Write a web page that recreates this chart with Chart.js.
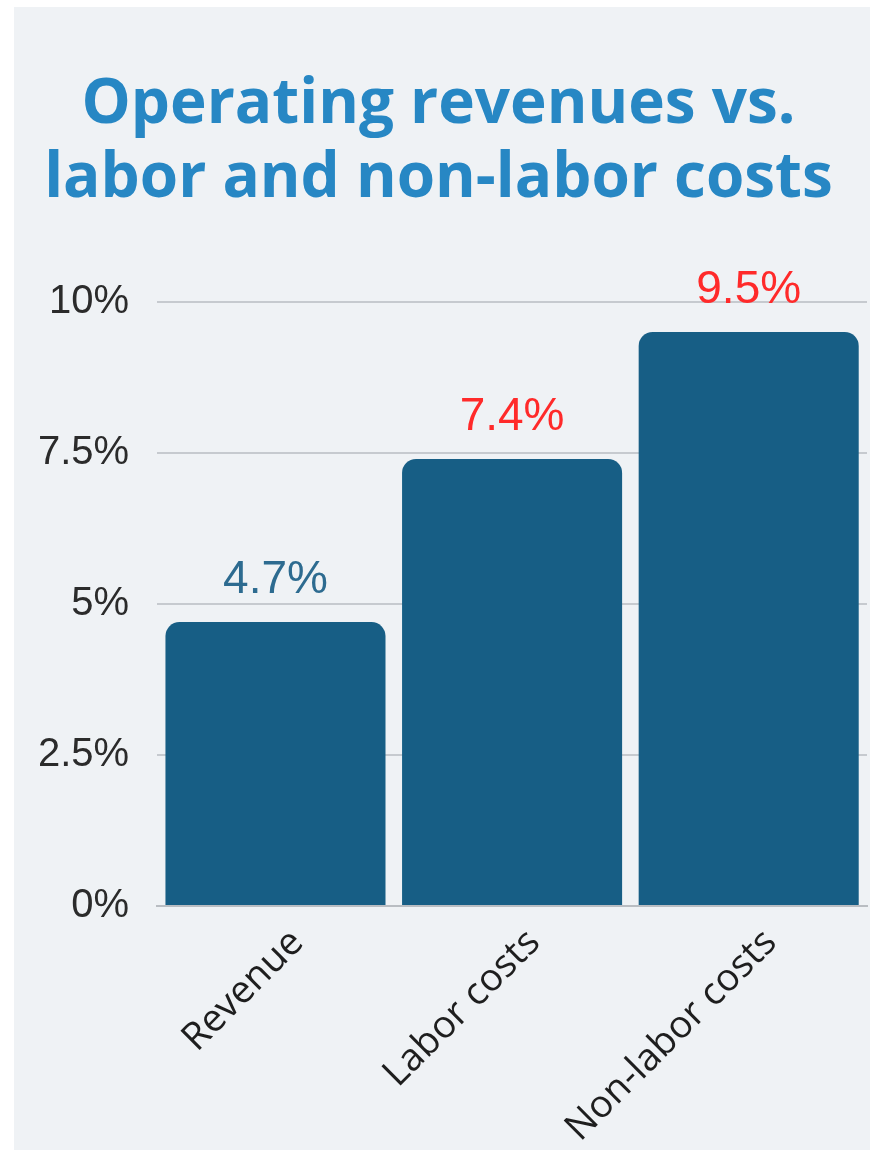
<!DOCTYPE html>
<html>
<head>
<meta charset="utf-8">
<script src="https://cdn.jsdelivr.net/npm/chart.js@4"></script>
<style>
  html, body { margin: 0; padding: 0; background: #ffffff; }
  #wrap { width: 878px; height: 1157px; }
</style>
</head>
<body>
<div id="wrap"><canvas id="costChart" width="878" height="1157"></canvas></div>
<script>
const categories = ['Revenue', 'Labor costs', 'Non-labor costs'];
const growthPct = [4.7, 7.4, 9.5];
const valueLabelColors = ['#2d6b90', '#ff2a2a', '#ff2a2a'];
const yTickValues = [0, 2.5, 5, 7.5, 10];
const titleLines = ['Operating revenues vs.', 'labor and non-labor costs'];

// light grey card behind everything
const panelBackground = {
    id: 'panelBackground',
    beforeDraw(chart) {
        const ctx = chart.ctx;
        ctx.save();
        ctx.fillStyle = '#ffffff';
        ctx.fillRect(0, 0, chart.width, chart.height);
        ctx.fillStyle = '#eff2f5';
        ctx.fillRect(14, 7, 856, 1143);
        ctx.restore();
    }
};

// value labels above each bar
const valueLabels = {
    id: 'valueLabels',
    afterDatasetsDraw(chart) {
        const ctx = chart.ctx;
        const meta = chart.getDatasetMeta(0);
        ctx.save();
        ctx.font = '46px "Liberation Sans", Arial, sans-serif';
        ctx.textAlign = 'center';
        ctx.textBaseline = 'bottom';
        meta.data.forEach((bar, i) => {
            ctx.fillStyle = valueLabelColors[i];
            ctx.fillText(growthPct[i].toFixed(1) + '%', bar.x, bar.y - 19);
        });
        ctx.restore();
    }
};

let chartCanvas = document.getElementById('costChart');
let costChart = new Chart(chartCanvas, {
    type: 'bar',
    data: {
        labels: categories,
        datasets: [{
            data: growthPct,
            backgroundColor: '#175e85',
            borderWidth: 0,
            borderRadius: { topLeft: 14, topRight: 14, bottomLeft: 0, bottomRight: 0 },
            borderSkipped: false,
            barPercentage: 0.93,
            categoryPercentage: 1.0
        }]
    },
    options: {
        responsive: false,
        animation: false,
        layout: {
            padding: { left: 10, right: 11, top: 0, bottom: 0 }
        },
        plugins: {
            legend: { display: false },
            tooltip: { enabled: false },
            title: {
                display: true,
                text: titleLines,
                color: '#2787c4',
                font: { family: '"Open Sans", sans-serif', size: 62, weight: 'bold', lineHeight: 1.2 },
                padding: { top: 68, bottom: 85 }
            }
        },
        scales: {
            x: {
                grid: { display: false },
                border: { display: true, color: '#b9bdc2', width: 2 },
                ticks: {
                    color: '#1e1e1e',
                    font: { family: '"Open Sans", sans-serif', size: 38, lineHeight: 1.0 },
                    minRotation: 45,
                    maxRotation: 45,
                    padding: 9,
                    labelOffset: 22
                }
            },
            y: {
                min: 0,
                max: 10,
                afterBuildTicks(axis) {
                    axis.ticks = yTickValues.map(v => ({ value: v }));
                },
                grid: { color: '#c6cacf', lineWidth: 2, drawTicks: false },
                border: { display: false },
                ticks: {
                    color: '#2b2b2b',
                    font: { family: '"Liberation Sans", Arial, sans-serif', size: 40 },
                    padding: 28,
                    callback: (v) => v + '%'
                }
            }
        }
    },
    plugins: [panelBackground, valueLabels]
});
</script>
</body>
</html>
